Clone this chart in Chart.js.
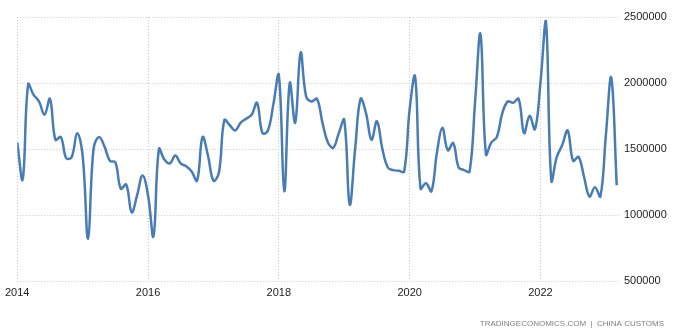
<!DOCTYPE html>
<html>
<head>
<meta charset="utf-8">
<script src="https://cdn.jsdelivr.net/npm/chart.js@4"></script>
<style>
    html, body { margin: 0; padding: 0; background: #fff; }
    #wrap { width: 680px; height: 333px; position: relative; }
</style>
</head>
<body>
<div id="wrap"><canvas id="chart" width="680" height="333"></canvas></div>
<script>
// monthly values, Jan 2014 .. Mar 2023
const startYear = 2014;
const values = [
    1550000, 1270000, 1990000, 1910000, 1860000, 1760000, 1880000, 1570000, 1590000, 1430000, 1440000, 1620000,
    1450000, 820000, 1500000, 1590000, 1520000, 1410000, 1400000, 1200000, 1230000, 1020000, 1150000, 1300000,
    1150000, 840000, 1500000, 1420000, 1390000, 1450000, 1390000, 1370000, 1330000, 1260000, 1590000, 1450000,
    1260000, 1320000, 1720000, 1680000, 1640000, 1700000, 1730000, 1760000, 1850000, 1620000, 1640000, 1840000,
    2060000, 1180000, 2000000, 1700000, 2230000, 1900000, 1860000, 1880000, 1700000, 1550000, 1510000, 1620000,
    1720000, 1080000, 1500000, 1880000, 1770000, 1570000, 1710000, 1500000, 1360000, 1340000, 1335000, 1330000,
    1800000, 2050000, 1200000, 1240000, 1180000, 1470000, 1660000, 1490000, 1545000, 1360000, 1340000, 1330000,
    1850000, 2370000, 1460000, 1550000, 1590000, 1770000, 1860000, 1850000, 1880000, 1620000, 1750000, 1650000,
    2000000, 2470000, 1260000, 1440000, 1530000, 1640000, 1410000, 1440000, 1290000, 1140000, 1210000, 1140000,
    1600000, 2040000, 1225000
];
const yearLabels = ['2014', '2016', '2018', '2020', '2022'];
const yTicks = [500000, 1000000, 1500000, 2000000, 2500000];
const sourceText = 'TRADINGECONOMICS.COM  |  CHINA CUSTOMS';

const FONT = "'Liberation Sans', Arial, sans-serif";
const points = values.map((v, i) => ({ x: i, y: v }));

const footer = {
    id: 'footer',
    afterDraw(chart) {
        const ctx = chart.ctx;
        ctx.save();
        ctx.font = '8px ' + FONT;
        ctx.fillStyle = '#808080';
        ctx.textAlign = 'right';
        ctx.textBaseline = 'alphabetic';
        ctx.fillText(sourceText, 664, 326);
        ctx.restore();
    }
};

new Chart(document.getElementById('chart').getContext('2d'), {
    type: 'line',
    data: {
        datasets: [{
            data: points,
            borderColor: '#477db4',
            borderWidth: 2.5,
            pointRadius: 0,
            tension: 0.4,
            fill: false
        }]
    },
    options: {
        responsive: false,
        animation: false,
        layout: { padding: { left: 16, right: 0, top: 17, bottom: 32 } },
        plugins: {
            legend: { display: false },
            tooltip: { enabled: false }
        },
        scales: {
            x: {
                type: 'linear',
                min: 0,
                max: 110.6,
                afterFit: s => { s.height = 20; },
                grid: { color: '#c8c8c8', lineWidth: 1, drawTicks: false },
                border: { display: false, dash: [1, 2] },
                ticks: {
                    stepSize: 24,
                    includeBounds: false,
                    maxRotation: 0,
                    padding: 5,
                    color: '#222',
                    font: { family: FONT, size: 11 },
                    callback: v => yearLabels[Math.round(v / 24)] || ''
                }
            },
            y: {
                position: 'right',
                min: yTicks[0],
                max: yTicks[yTicks.length - 1],
                afterFit: s => { s.width = 60; },
                afterBuildTicks: s => { s.ticks = yTicks.map(v => ({ value: v })); },
                grid: { color: '#c8c8c8', lineWidth: 1, drawTicks: false },
                border: { display: false, dash: [1, 2] },
                ticks: {
                    padding: 4,
                    color: '#222',
                    font: { family: FONT, size: 11 },
                    callback: v => String(v)
                }
            }
        }
    },
    plugins: [footer]
});
</script>
</body>
</html>
